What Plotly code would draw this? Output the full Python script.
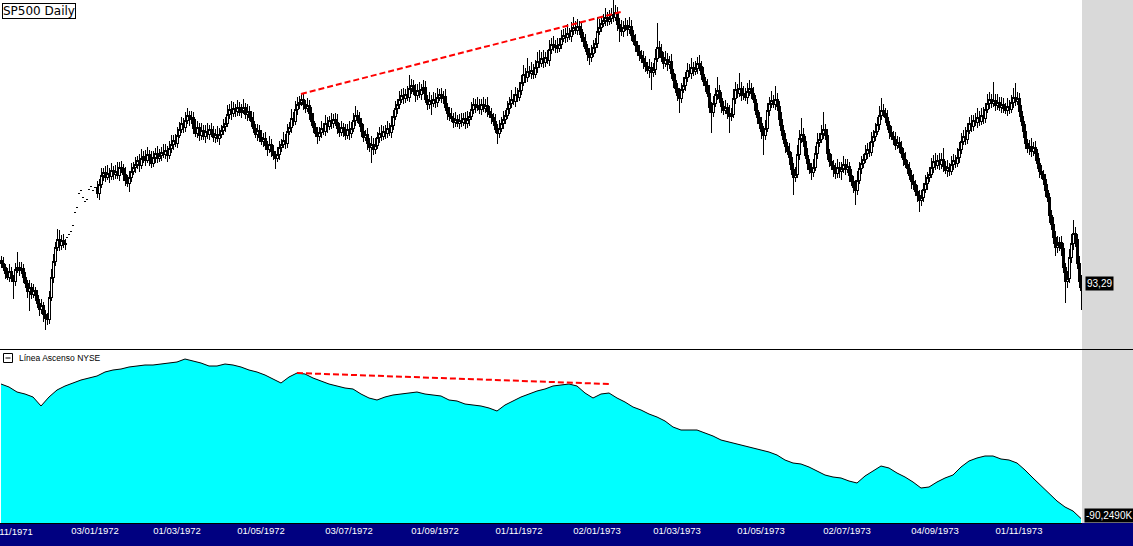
import pandas as pd
import plotly.graph_objects as go

# ---------------- DATA ----------------
# Daily closes of the S&P 500 (one per trading day)
closes = [
    96.0, 95.6, 95.0, 94.6, 95.2, 94.5, 94.2, 95.4, 95.6, 95.3,
    95.5, 94.6, 94.0, 93.2, 93.6, 92.9, 93.3, 92.8, 92.0, 91.4,
    91.8, 90.9, 90.5, 90.4, 92.6, 94.6, 96.2, 97.6, 98.4, 97.8,
    98.3, 97.9, 98.0, 98.6, 98.9, 99.2, 99.8, 101.1, 101.6, 103.0,
    103.3, 102.6, 102.2, 102.4, 103.4, 103.7, 103.3, 103.6, 103.0, 103.9,
    104.8, 105.1, 104.6, 105.0, 104.7, 105.3, 104.9, 105.2, 104.8, 105.6,
    105.5, 104.9, 104.3, 104.0, 104.6, 105.2, 105.6, 105.9, 106.3, 105.8,
    106.5, 106.7, 106.3, 106.9, 106.4, 106.0, 106.6, 107.0, 106.5, 106.8,
    107.1, 106.9, 107.3, 106.8, 107.5, 107.9, 108.3, 108.0, 108.8, 109.4,
    110.0, 109.6, 110.3, 110.8, 110.4, 110.6, 109.5, 109.0, 109.6, 108.8,
    109.3, 108.7, 109.2, 108.9, 109.4, 109.0, 108.6, 108.9, 108.5, 108.9,
    109.3, 109.7, 110.0, 110.9, 111.4, 111.0, 111.5, 111.2, 111.6, 111.1,
    111.3, 111.6, 110.9, 111.2, 110.6, 110.2, 109.5, 108.9, 109.3, 108.6,
    108.2, 108.5, 107.8, 107.4, 107.9, 107.2, 106.8, 106.5, 106.9, 107.6,
    107.9, 108.3, 108.0, 109.2, 109.6, 110.5, 110.2, 111.4, 111.9, 112.1,
    112.4, 111.9, 111.5, 111.8, 111.0, 110.2, 109.6, 109.0, 108.7, 109.1,
    109.5, 109.2, 110.0, 109.7, 110.3, 110.0, 110.4, 110.1, 109.5, 109.1,
    109.6, 109.2, 108.8, 109.4, 109.0, 109.5, 110.3, 110.8, 110.5, 110.0,
    109.2, 108.6, 108.9, 108.0, 107.6, 107.9, 107.4, 107.8, 108.6, 109.0,
    108.7, 109.2, 109.0, 109.5, 109.1, 109.8, 110.7, 111.5, 111.9, 112.4,
    112.8, 112.5, 112.9, 112.6, 113.5, 113.8, 113.2, 112.8, 113.3, 112.9,
    113.4, 113.6, 112.4, 111.9, 112.3, 112.0, 112.4, 112.1, 112.6, 112.9,
    112.5, 112.7, 111.6, 111.0, 110.7, 110.5, 110.1, 110.4, 110.0, 110.3,
    110.1, 110.5, 110.0, 110.4, 110.7, 111.4, 111.9, 111.6, 111.8, 111.4,
    111.9, 111.5, 111.8, 111.2, 110.9, 110.6, 110.2, 109.4, 109.0, 109.5,
    110.0, 110.4, 110.8, 111.5, 112.0, 112.4, 112.2, 112.9, 112.6, 113.3,
    114.1, 114.9, 114.6, 115.2, 115.0, 115.3, 114.9, 115.6, 116.2, 116.0,
    116.5, 116.1, 116.6, 116.3, 117.4, 117.9, 117.6, 117.8, 117.5, 117.9,
    118.5, 118.8, 118.6, 119.0, 118.7, 119.3, 119.6, 119.3, 119.7, 119.4,
    118.6, 118.2, 117.5, 116.9, 116.6, 117.0, 117.6, 118.0, 119.2, 119.6,
    120.0, 120.3, 120.6, 120.2, 120.5, 120.9, 120.6, 121.1, 119.9, 119.5,
    119.2, 119.6, 119.8, 119.4, 119.7, 118.8, 118.2, 117.8, 117.2, 116.8,
    116.5, 116.1, 115.7, 115.3, 115.6, 115.1, 115.4, 116.5, 117.6, 117.2,
    116.6, 116.0, 116.4, 115.9, 116.2, 115.0, 114.3, 113.5, 112.8, 112.5,
    113.4, 113.8, 114.6, 115.3, 115.0, 115.6, 115.2, 115.5, 116.0, 115.7,
    114.9, 114.2, 113.8, 113.0, 111.6, 111.1, 112.0, 112.9, 113.3, 112.5,
    111.7, 111.3, 111.6, 111.0, 110.7, 110.9, 112.5, 113.4, 113.0, 113.5,
    112.8, 113.0, 112.6, 113.2, 113.5, 113.0, 112.4, 111.3, 110.6, 110.0,
    109.2, 108.8, 109.5, 111.3, 112.0, 112.3, 111.9, 112.4, 111.7, 110.4,
    109.3, 108.4, 107.7, 107.2, 106.6, 105.4, 104.6, 104.9, 106.9, 108.5,
    108.9, 108.2, 106.8, 106.0, 105.4, 105.1, 105.6, 107.0, 108.1, 108.4,
    109.0, 109.4, 108.8, 107.0, 106.2, 105.8, 105.4, 105.0, 105.6, 105.2,
    105.5, 105.9, 105.4, 105.7, 104.8, 104.2, 103.6, 103.3, 104.3, 105.5,
    106.0, 106.4, 107.0, 107.4, 107.1, 108.2, 108.7, 109.2, 109.9, 110.8,
    111.3, 111.0, 110.6, 109.8, 109.1, 108.7, 108.4, 107.8, 108.1, 107.6,
    107.0, 106.4, 105.9, 105.5, 104.8, 104.2, 103.9, 103.2, 102.8, 102.3,
    102.6, 103.4, 104.0, 104.6, 104.9, 105.6, 106.2, 105.8, 106.3, 105.9,
    106.4, 105.7, 105.3, 105.6, 105.2, 105.9, 106.3, 106.0, 106.6, 107.4,
    108.2, 108.7, 108.4, 109.3, 110.0, 109.7, 110.3, 110.1, 110.6, 110.2,
    110.8, 110.5, 111.4, 112.0, 112.4, 112.0, 112.3, 111.8, 112.1, 111.6,
    111.9, 111.5, 111.3, 111.7, 111.4, 112.1, 112.6, 112.2, 112.5, 111.2,
    110.2, 109.2, 108.0, 107.5, 107.7, 107.2, 107.6, 107.0, 106.0, 105.2,
    104.9, 104.4, 103.3, 102.6, 100.8, 99.9, 98.6, 97.6, 97.9, 98.1,
    97.5, 95.6, 94.2, 94.5, 96.6, 98.0, 99.0, 98.4, 96.0, 94.2,
    93.29,
]
first_open = 96.3
# days recorded with a single price only (open = high = low = close)
flat_days = [33, 34, 35, 36, 37, 38, 39, 40, 41, 42, 43, 44, 45, 46, 47]

# upper / lower shadow lengths, in tenths of a point
upper_wick = [
    4, 6, 3, 5, 7, 4, 3, 6, 15, 5,   6, 4, 5, 3, 7, 4, 6, 3, 5, 4,
    6, 3, 4, 5, 6, 8, 7, 5, 10, 9,   5, 6, 4, 0, 0, 0, 0, 0, 0, 0,
    0, 0, 0, 0, 0, 0, 0, 0, 6, 5,    7, 4, 6, 8, 5, 7, 4, 6, 9, 5,
    6, 4, 7, 5, 6, 8, 5, 7, 4, 6,    9, 5, 6, 7, 4, 8, 6, 5, 7, 6,
    5, 8, 6, 4, 7, 9, 5, 6, 8, 7,    6, 5, 8, 7, 4, 6, 5, 9, 6, 4,
    7, 5, 6, 8, 4, 6, 7, 5, 8, 6,    5, 7, 6, 9, 5, 8, 6, 4, 7, 5,
    6, 8, 4, 7, 5, 6, 9, 4, 6, 5,    7, 5, 6, 4, 8, 5, 6, 4, 7, 6,
    5, 8, 6, 7, 5, 9, 6, 8, 7, 6,    5, 6, 4, 7, 5, 6, 8, 4, 6, 5,
    7, 5, 8, 6, 4, 7, 5, 6, 8, 5,    6, 4, 7, 5, 8, 6, 7, 9, 5, 6,
    5, 7, 4, 6, 5, 8, 6, 7, 5, 6,    8, 5, 6, 7, 5, 9, 6, 7, 5, 8,
    6, 7, 5, 8, 13, 6, 5, 7, 6, 8,   5, 7, 6, 4, 8, 5, 7, 6, 9, 5,
    6, 5, 7, 4, 6, 8, 5, 7, 4, 6,    7, 5, 6, 8, 4, 7, 6, 5, 8, 6,
    5, 7, 6, 8, 5, 6, 4, 7, 5, 8,    6, 8, 5, 7, 6, 9, 5, 7, 6, 8,
    7, 9, 6, 13, 5, 8, 6, 7, 9, 11,  6, 8, 5, 7, 9, 6, 8, 5, 7, 6,
    8, 6, 7, 9, 5, 8, 10, 6, 7, 5,   6, 5, 7, 4, 6, 8, 7, 5, 14, 8,
    7, 6, 9, 5, 8, 6, 14, 7, 5, 6,   8, 6, 7, 5, 9, 6, 5, 7, 4, 6,
    5, 7, 6, 4, 8, 5, 6, 9, 24, 6,   7, 5, 8, 6, 5, 7, 4, 6, 5, 7,
    6, 8, 5, 7, 6, 9, 5, 7, 6, 8,    5, 7, 4, 6, 8, 5, 7, 6, 13, 5,
    6, 5, 7, 4, 8, 6, 9, 7, 5, 15,   6, 7, 5, 8, 8, 5, 6, 4, 7, 5,
    6, 5, 8, 7, 6, 9, 5, 13, 6, 5,   7, 5, 6, 4, 8, 5, 6, 7, 9, 8,
    16, 6, 5, 7, 4, 6, 8, 7, 9, 6,   8, 17, 5, 6, 4, 7, 5, 6, 8, 5,
    6, 8, 5, 7, 4, 6, 5, 7, 9, 6,    7, 5, 8, 6, 7, 9, 6, 8, 7, 9,
    12, 6, 5, 7, 4, 6, 5, 7, 6, 5,   6, 5, 7, 4, 6, 5, 7, 4, 6, 5,
    7, 6, 8, 5, 7, 9, 6, 8, 5, 7,    6, 11, 5, 7, 4, 8, 6, 5, 9, 7,
    8, 6, 9, 7, 6, 8, 5, 7, 9, 6,    7, 8, 6, 9, 7, 5, 18, 6, 8, 5,
    7, 6, 5, 8, 6, 7, 9, 14, 6, 5,   6, 5, 7, 4, 6, 8, 5, 6, 4, 5,
    6, 4, 5, 6, 4, 5, 7, 6, 8, 5,    6, 5, 4, 7, 8, 9, 13, 6, 5, 7,
    6,
]
lower_wick = [
    5, 4, 6, 3, 5, 4, 18, 5, 4, 6,   4, 6, 5, 7, 20, 5, 4, 6, 5, 7,
    5, 8, 12, 6, 5, 4, 6, 5, 4, 6,   5, 4, 6, 0, 0, 0, 0, 0, 0, 0,
    0, 0, 0, 0, 0, 0, 0, 0, 5, 7,    4, 6, 5, 3, 7, 4, 6, 5, 4, 6,
    5, 7, 6, 4, 9, 5, 4, 6, 5, 7,    4, 5, 6, 3, 7, 5, 4, 6, 5, 4,
    6, 4, 5, 7, 4, 5, 6, 4, 5, 3,    4, 6, 5, 4, 7, 5, 6, 4, 5, 6,
    5, 4, 7, 5, 6, 4, 5, 6, 4, 7,    4, 5, 6, 4, 5, 7, 4, 6, 5, 4,
    6, 4, 5, 7, 4, 6, 5, 4, 7, 5,    4, 6, 5, 7, 4, 6, 5, 11, 4, 6,
    5, 4, 6, 5, 4, 6, 5, 4, 6, 5,    4, 6, 5, 4, 7, 5, 6, 4, 8, 5,
    6, 4, 5, 7, 4, 6, 5, 4, 6, 5,    4, 6, 5, 4, 7, 5, 4, 6, 5, 4,
    6, 5, 4, 7, 5, 16, 6, 5, 4, 6,   5, 4, 6, 5, 4, 6, 5, 4, 6, 5,
    4, 6, 5, 4, 5, 6, 4, 7, 5, 4,    6, 5, 4, 6, 5, 12, 4, 6, 5, 4,
    5, 6, 4, 7, 5, 4, 6, 5, 4, 6,    5, 4, 6, 5, 7, 4, 5, 6, 4, 5,
    6, 4, 5, 6, 4, 7, 5, 4, 11, 5,   4, 6, 5, 4, 6, 5, 4, 6, 5, 4,
    5, 4, 6, 5, 4, 6, 5, 4, 6, 5,    4, 6, 5, 4, 6, 5, 4, 6, 5, 4,
    5, 4, 6, 5, 4, 6, 5, 4, 5, 6,    5, 6, 4, 7, 8, 5, 4, 6, 5, 4,
    5, 4, 6, 5, 4, 6, 5, 4, 7, 14,   5, 6, 4, 7, 5, 6, 4, 7, 5, 6,
    5, 7, 6, 4, 8, 18, 5, 6, 4, 7,   5, 6, 4, 7, 5, 6, 8, 5, 6, 15,
    5, 4, 6, 5, 4, 6, 5, 4, 6, 5,    6, 5, 7, 4, 6, 21, 5, 4, 6, 5,
    7, 5, 4, 6, 17, 5, 4, 6, 5, 4,   6, 5, 4, 7, 5, 6, 4, 5, 7, 6,
    8, 20, 5, 4, 6, 5, 4, 6, 5, 7,   6, 5, 7, 4, 8, 6, 18, 5, 4, 6,
    5, 6, 4, 7, 5, 8, 5, 4, 6, 5,    4, 6, 5, 7, 6, 5, 8, 6, 5, 7,
    9, 5, 6, 4, 7, 5, 6, 15, 5, 4,   6, 5, 4, 6, 5, 4, 6, 5, 4, 6,
    5, 4, 6, 5, 7, 4, 6, 5, 4, 6,    5, 7, 4, 6, 5, 8, 6, 5, 7, 12,
    6, 5, 4, 7, 5, 4, 6, 5, 4, 6,    5, 6, 4, 7, 5, 4, 6, 5, 4, 6,
    5, 4, 6, 5, 4, 6, 5, 4, 6, 5,    4, 6, 5, 4, 6, 5, 4, 6, 5, 4,
    6, 5, 4, 6, 5, 4, 6, 5, 4, 6,    5, 7, 6, 5, 7, 6, 5, 8, 6, 7,
    5, 6, 7, 5, 8, 6, 7, 9, 6, 7,    8, 6, 22, 7, 5, 6, 7, 8, 6, 7,
    20,
]

# NYSE cumulative advance/decline line (thousands), sampled every 4 sessions
ad_k = [
    -49.9, -50.8, -52.3, -52.9, -53.8, -56.5, -53.8, -51.7, -50.5, -49.6,
    -48.7, -48.1, -47.5, -46.3, -45.7, -45.4, -44.8, -44.5, -44.2, -44.2,
    -43.9, -43.6, -43.3, -42.4, -43.0, -43.6, -44.5, -44.5, -43.9, -44.2,
    -44.8, -45.7, -46.3, -47.2, -48.4, -49.6, -47.8, -46.6, -46.9, -48.1,
    -49.0, -49.9, -50.5, -51.1, -51.4, -52.9, -54.1, -54.7, -53.8, -53.2,
    -52.9, -52.6, -52.3, -52.9, -53.2, -53.5, -54.7, -55.0, -55.9, -56.2,
    -56.5, -57.1, -58.0, -56.2, -55.0, -53.8, -52.9, -52.0, -51.4, -50.5,
    -50.2, -49.9, -50.5, -52.6, -54.1, -52.9, -52.6, -54.1, -55.3, -56.8,
    -57.7, -58.9, -59.8, -61.0, -62.8, -63.7, -63.7, -63.7, -64.6, -65.5,
    -66.7, -67.3, -67.9, -68.5, -69.1, -69.7, -70.3, -71.2, -72.7, -73.6,
    -73.9, -74.8, -76.0, -77.2, -77.8, -78.1, -79.0, -79.6, -77.5, -76.0,
    -74.5, -75.1, -76.6, -77.8, -79.3, -81.1, -80.8, -79.3, -78.1, -77.2,
    -74.8, -73.0, -72.1, -71.5, -71.5, -72.4, -72.7, -73.6, -75.7, -78.1,
    -80.5, -82.9, -85.0, -86.8, -88.0, -90.249,
]
ad_step = 4

# divergence trend lines (session index, value)
price_trend_x = [150, 310]
price_trend_y = [112.9, 121.1]
ad_trend_x = [148, 304]
ad_trend_y = [-46.6, -49.9]

tick_labels = ["01/11/1971", "03/01/1972", "01/03/1972", "01/05/1972", "03/07/1972",
               "01/09/1972", "01/11/1972", "02/01/1973", "01/03/1973", "01/05/1973",
               "02/07/1973", "04/09/1973", "01/11/1973"]
start_date = "1971-10-26"
holidays = ["1971-11-25", "1971-12-24", "1972-02-21", "1972-03-31", "1972-05-29",
            "1972-07-04", "1972-09-04", "1972-11-07", "1972-11-23", "1972-12-25",
            "1972-12-28", "1973-01-01", "1973-01-25", "1973-02-19", "1973-04-20",
            "1973-05-28", "1973-07-04", "1973-09-03", "1973-11-22", "1973-12-25"]

# ---------------- BUILD ----------------
n = len(closes)
assert len(upper_wick) == n and len(lower_wick) == n, (len(upper_wick), len(lower_wick), n)
idx = list(range(n))
opens, highs, lows = [], [], []
for i, c in enumerate(closes):
    if i in flat_days:
        o = c
    elif i == 0:
        o = first_open
    else:
        o = closes[i - 1]
    opens.append(o)
    highs.append(max(o, c) + upper_wick[i] / 10)
    lows.append(min(o, c) - lower_wick[i] / 10)

dates = pd.bdate_range(start=start_date, periods=n, freq="C", holidays=holidays)
tickvals = [int(dates.searchsorted(pd.to_datetime(t, dayfirst=True))) for t in tick_labels]
ad_x = [k * ad_step for k in range(len(ad_k))]

W, H = 1133, 546
plot_right = 1082
top_px, sep_px, bot_top_px, bot_px = 0, 349, 351, 523
x_range = [-0.5, n - 0.5]
price_range = [122.3 - (sep_px - top_px) / 10, 122.3]
ad_range = [-91.6, -40.0]
tick_font = dict(family="Liberation Sans", size=9.5, color="white")

fig = go.Figure()
fig.add_trace(go.Candlestick(
    x=idx, open=opens, high=highs, low=lows, close=closes,
    increasing=dict(line=dict(color="black", width=1), fillcolor="white"),
    decreasing=dict(line=dict(color="black", width=1), fillcolor="black"),
    whiskerwidth=0, xaxis="x", yaxis="y", showlegend=False, hoverinfo="skip"))
fig.add_trace(go.Scatter(x=price_trend_x, y=price_trend_y, mode="lines",
                         line=dict(color="#ff0000", width=2, dash="6px,3px"),
                         xaxis="x", yaxis="y", showlegend=False, hoverinfo="skip"))

fig.add_trace(go.Scatter(x=ad_x, y=[ad_range[0]] * len(ad_x), mode="lines",
                         line=dict(width=0, color="rgba(0,0,0,0)"),
                         xaxis="x2", yaxis="y2", showlegend=False, hoverinfo="skip"))
fig.add_trace(go.Scatter(x=ad_x, y=ad_k, mode="lines", fill="tonexty",
                         fillcolor="#00ffff", line=dict(color="black", width=1),
                         xaxis="x2", yaxis="y2", showlegend=False, hoverinfo="skip"))
fig.add_trace(go.Scatter(x=ad_trend_x, y=ad_trend_y, mode="lines",
                         line=dict(color="#ff0000", width=2, dash="6px,3px"),
                         xaxis="x2", yaxis="y2", showlegend=False, hoverinfo="skip"))


def py(p):
    return 1 - p / H


def px(p):
    return p / W


axis_common = dict(showgrid=False, zeroline=False, showline=False, ticks="",
                   automargin=False)
fig.update_layout(
    width=W, height=H,
    margin=dict(l=0, r=0, t=0, b=0, autoexpand=False),
    paper_bgcolor="white", plot_bgcolor="white",
    boxgap=0, boxgroupgap=0,
    xaxis=dict(domain=[0, px(plot_right)], range=x_range, anchor="y",
               showticklabels=False, rangeslider=dict(visible=False), **axis_common),
    yaxis=dict(domain=[py(sep_px), 1], range=price_range, anchor="x",
               showticklabels=False, **axis_common),
    # first label (cut by the left edge) is drawn as an annotation below
    xaxis2=dict(domain=[0, px(plot_right)], range=x_range, anchor="y2",
                tickmode="array", tickvals=tickvals[1:], ticktext=tick_labels[1:],
                tickfont=tick_font, **axis_common),
    yaxis2=dict(domain=[py(bot_px), py(bot_top_px)], range=ad_range, anchor="x2",
                showticklabels=False, **axis_common),
    showlegend=False,
)

shapes = [
    # right gray margin
    dict(type="rect", xref="paper", yref="paper", x0=px(plot_right), x1=1,
         y0=py(bot_px), y1=1, fillcolor="#d9d9d9", line=dict(width=0), layer="below"),
    # navy date band
    dict(type="rect", xref="paper", yref="paper", x0=0, x1=1, y0=0, y1=py(bot_px),
         fillcolor="#000080", line=dict(width=0), layer="below"),
    # panel separator
    dict(type="line", xref="paper", yref="paper", x0=0, x1=1,
         y0=py(sep_px + 0.5), y1=py(sep_px + 0.5), line=dict(color="black", width=1)),
    dict(type="line", xref="paper", yref="paper", x0=0, x1=px(plot_right),
         y0=py(bot_px + 0.5), y1=py(bot_px + 0.5), line=dict(color="black", width=1)),
    # collapse box of the lower panel
    dict(type="rect", xref="paper", yref="paper", x0=px(3.5), x1=px(12.5),
         y0=py(362.5), y1=py(353.5), line=dict(color="black", width=1), fillcolor="white"),
    dict(type="line", xref="paper", yref="paper", x0=px(5.5), x1=px(10.5),
         y0=py(358), y1=py(358), line=dict(color="black", width=1)),
]
fig.update_layout(shapes=shapes)

annotations = [
    dict(text="SP500 Daily", xref="paper", yref="paper", x=px(2), y=py(3),
         xanchor="left", yanchor="top", showarrow=False,
         font=dict(family="DejaVu Sans", size=12, color="black"),
         bgcolor="white", bordercolor="black", borderwidth=1, borderpad=0),
    dict(text="Línea Ascenso NYSE", xref="paper", yref="paper", x=px(17), y=py(358),
         xanchor="left", yanchor="middle", showarrow=False,
         font=dict(family="Liberation Sans", size=8.5, color="black")),
    dict(text=f"{closes[-1]:.2f}".replace(".", ","), xref="paper", yref="y",
         x=px(1085), y=closes[-1], yshift=7, xanchor="left", yanchor="middle",
         showarrow=False, bgcolor="black", borderpad=1,
         font=dict(family="Liberation Sans", size=10, color="white")),
    dict(text=f"{ad_k[-1]:.4f}K".replace(".", ","), xref="paper", yref="y2",
         x=px(1084), y=ad_k[-1], yshift=3, xanchor="left", yanchor="middle",
         showarrow=False, bgcolor="black", borderpad=1,
         font=dict(family="Liberation Sans", size=10, color="white")),
    dict(text=tick_labels[0], xref="x2", yref="paper", x=tickvals[0], y=py(531),
         xanchor="center", yanchor="middle", showarrow=False, font=tick_font),
]
fig.update_layout(annotations=annotations)

fig.write_html("out.html", config={"displayModeBar": False})

# page without the browser's default 8px body margin; crisp candle edges
with open("out.html", encoding="utf-8") as fh:
    page = fh.read()
css = ("<style>html,body{margin:0;padding:0;overflow:hidden;}"
       ".boxlayer path{shape-rendering:crispEdges;}</style>")
page = page.replace("<head>", "<head>" + css, 1)
with open("out.html", "w", encoding="utf-8") as fh:
    fh.write(page)
